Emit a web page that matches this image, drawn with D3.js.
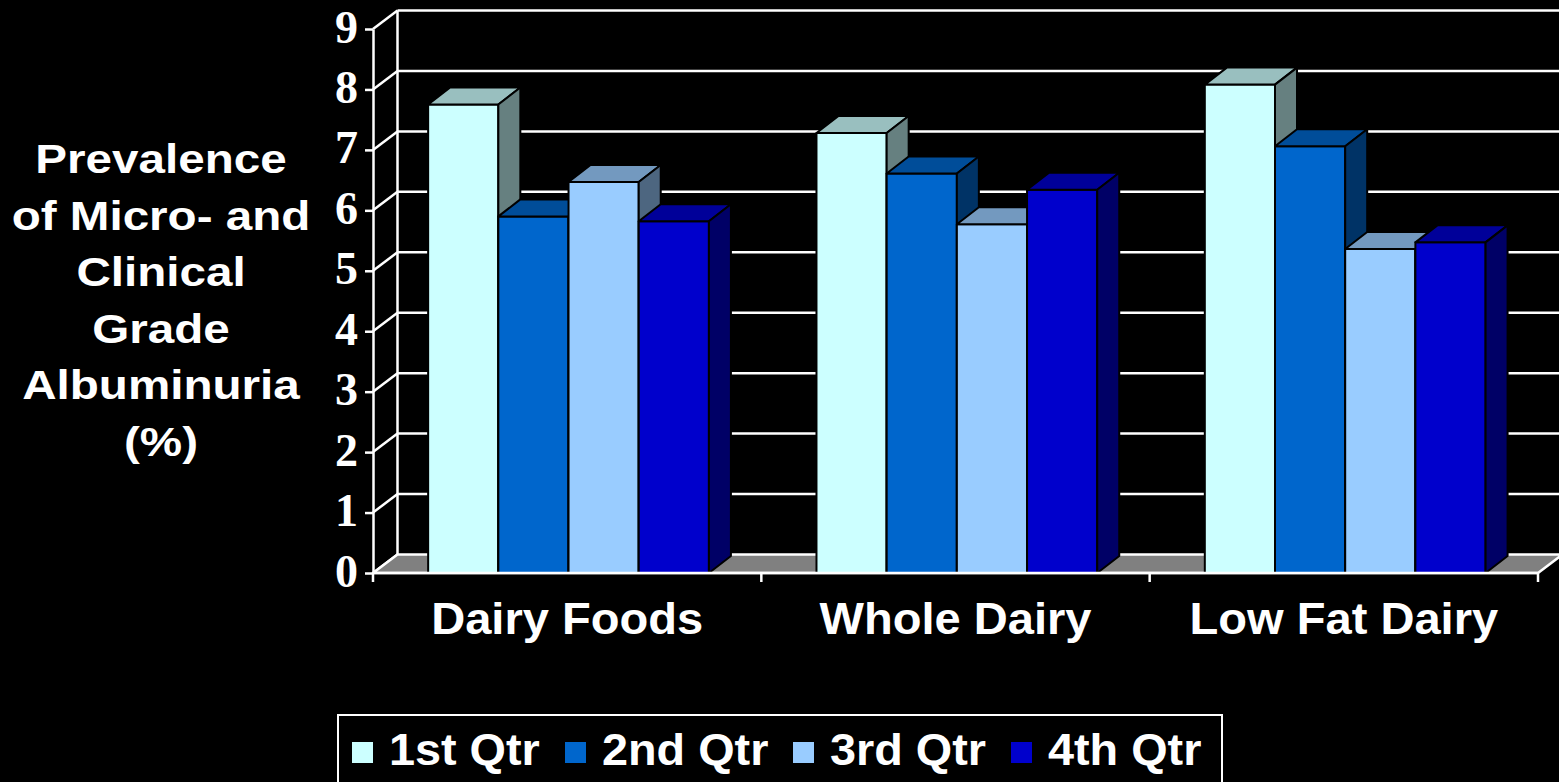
<!DOCTYPE html>
<html>
<head>
<meta charset="utf-8">
<script src="https://cdn.jsdelivr.net/npm/d3@7"></script>
<style>
  html, body { margin: 0; padding: 0; background: #000; }
  svg { display: block; }
</style>
</head>
<body>
<div id="chart"></div>
<script>
// values
const categories = ["Dairy Foods", "Whole Dairy", "Low Fat Dairy"];
const series = ["1st Qtr", "2nd Qtr", "3rd Qtr", "4th Qtr"];
const qtr1 = [7.75, 7.28, 8.08];
const qtr2 = [5.90, 6.61, 7.06];
const qtr3 = [6.47, 5.77, 5.36];
const qtr4 = [5.82, 6.34, 5.47];
const yTicks = [0, 1, 2, 3, 4, 5, 6, 7, 8, 9];
const titleLines = ["Prevalence", "of Micro- and", "Clinical", "Grade", "Albuminuria", "(%)"];
const colors = ["#CCFFFF", "#0066CC", "#99CCFF", "#0000CC"];

const values = [qtr1, qtr2, qtr3, qtr4];

const W = 1559, H = 782;
const plotL = 373, plotR = 1538, plotB = 573, plotT = 29;
const wall = { dx: 24.5, dy: -18.5 };   // depth of floor / side wall
const deep = { dx: 22, dy: -17 };       // depth of each column

const svg = d3.select("#chart").append("svg")
  .attr("width", W).attr("height", H)
  .style("background", "#000");

const y = d3.scaleLinear().domain([0, 9]).range([plotB, plotT]);
const x0 = d3.scaleBand().domain(categories).range([plotL, plotR]);
const bw = x0.bandwidth();
const x1 = d3.scaleBand().domain(series).range([bw * 0.142, bw * 0.865]);

function shade(c, k) {
  const r = d3.rgb(c);
  return d3.rgb(r.r * k, r.g * k, r.b * k).formatHex();
}
const pts = a => a.map(p => p.join(",")).join(" ");

// back wall gridlines
svg.append("g").selectAll("line")
  .data(yTicks.filter(t => t > 0))
  .join("line")
  .attr("x1", plotL + wall.dx).attr("x2", W + 10)
  .attr("y1", d => y(d) + wall.dy).attr("y2", d => y(d) + wall.dy)
  .attr("stroke", "#fff").attr("stroke-width", 2.5);

// left side wall
const sideWall = svg.append("g").attr("stroke", "#fff").attr("stroke-width", 2.5);
sideWall.append("line")
  .attr("x1", plotL + wall.dx).attr("x2", plotL + wall.dx)
  .attr("y1", y(0) + wall.dy).attr("y2", y(9) + wall.dy);
sideWall.selectAll("line.diag")
  .data(yTicks)
  .join("line").attr("class", "diag")
  .attr("x1", plotL).attr("y1", d => y(d))
  .attr("x2", plotL + wall.dx).attr("y2", d => y(d) + wall.dy);

// floor
svg.append("polygon")
  .attr("points", pts([[plotL, y(0)], [plotR, y(0)],
    [plotR + wall.dx, y(0) + wall.dy], [plotL + wall.dx, y(0) + wall.dy]]))
  .attr("fill", "#808080").attr("stroke", "#fff").attr("stroke-width", 2.5)
  .attr("stroke-linejoin", "round");

// columns, drawn left to right so the next front face hides the previous side
const bars = [];
categories.forEach((c, ci) => {
  series.forEach((s, si) => {
    bars.push({ c, s, si, v: values[si][ci] });
  });
});

const barG = svg.append("g").selectAll("g")
  .data(bars)
  .join("g")
  .attr("stroke", "#000").attr("stroke-width", 2).attr("stroke-linejoin", "round");

barG.each(function (d) {
  const g = d3.select(this);
  const xa = x0(d.c) + x1(d.s), xb = xa + x1.bandwidth();
  const yt = y(d.v), yb = y(0);
  const col = colors[d.si];
  g.append("polygon")
    .attr("points", pts([[xa, yb], [xa, yt], [xb, yt], [xb, yb]]))
    .attr("fill", col);
  g.append("polygon")
    .attr("points", pts([[xa, yt], [xa + deep.dx, yt + deep.dy], [xb + deep.dx, yt + deep.dy], [xb, yt]]))
    .attr("fill", shade(col, 0.75));
  g.append("polygon")
    .attr("points", pts([[xb, yt], [xb + deep.dx, yt + deep.dy], [xb + deep.dx, yb + deep.dy], [xb, yb]]))
    .attr("fill", shade(col, 0.5));
});

// front value axis
const yAxis = svg.append("g")
  .attr("transform", `translate(${plotL},0)`)
  .call(d3.axisLeft(y).tickValues(yTicks).tickSize(8).tickSizeOuter(0).tickPadding(7));
yAxis.select(".domain").attr("stroke", "#fff").attr("stroke-width", 2.5);
yAxis.selectAll(".tick line").attr("stroke", "#fff").attr("stroke-width", 2.5);
yAxis.selectAll(".tick text")
  .attr("dy", 13)
  .attr("fill", "#fff")
  .style("font-family", "'Liberation Serif', 'Times New Roman', serif")
  .style("font-weight", "bold")
  .style("font-size", "46px");

// category axis line and ticks
svg.append("line")
  .attr("x1", plotL).attr("x2", plotR).attr("y1", y(0)).attr("y2", y(0))
  .attr("stroke", "#fff").attr("stroke-width", 2.5);
svg.append("g").selectAll("line")
  .data(categories.map(c => x0(c)).concat([plotR]))
  .join("line")
  .attr("x1", d => d).attr("x2", d => d)
  .attr("y1", y(0)).attr("y2", y(0) + 9)
  .attr("stroke", "#fff").attr("stroke-width", 2.5);

svg.append("g").selectAll("text")
  .data(categories)
  .join("text")
  .attr("transform", d => `translate(${x0(d) + bw / 2},634) scale(1.07,1)`)
  .attr("text-anchor", "middle")
  .attr("fill", "#fff")
  .style("font-family", "'Liberation Sans', Arial, sans-serif")
  .style("font-weight", "bold")
  .style("font-size", "44px")
  .text(d => d);

// value axis title
svg.append("g").selectAll("text")
  .data(titleLines)
  .join("text")
  .attr("transform", (d, i) => `translate(161,${173 + i * 56.6}) scale(1.19,1)`)
  .attr("text-anchor", "middle")
  .attr("fill", "#fff")
  .style("font-family", "'Liberation Sans', Arial, sans-serif")
  .style("font-weight", "bold")
  .style("font-size", "40px")
  .text(d => d);

// legend
const legend = svg.append("g");
legend.append("rect")
  .attr("x", 338).attr("y", 715).attr("width", 884).attr("height", 90)
  .attr("fill", "#000").attr("stroke", "#fff").attr("stroke-width", 2);
const legendX = [352, 565, 793, 1011];
const item = legend.selectAll("g.item")
  .data(series)
  .join("g").attr("class", "item")
  .attr("transform", (d, i) => `translate(${legendX[i]},0)`);
item.append("rect")
  .attr("x", 0).attr("y", 742).attr("width", 21).attr("height", 21)
  .attr("fill", (d, i) => colors[i]);
item.append("text")
  .attr("transform", "translate(37,765) scale(1.04,1)")
  .attr("fill", "#fff")
  .style("font-family", "'Liberation Sans', Arial, sans-serif")
  .style("font-weight", "bold")
  .style("font-size", "45px")
  .text(d => d);
</script>
</body>
</html>
